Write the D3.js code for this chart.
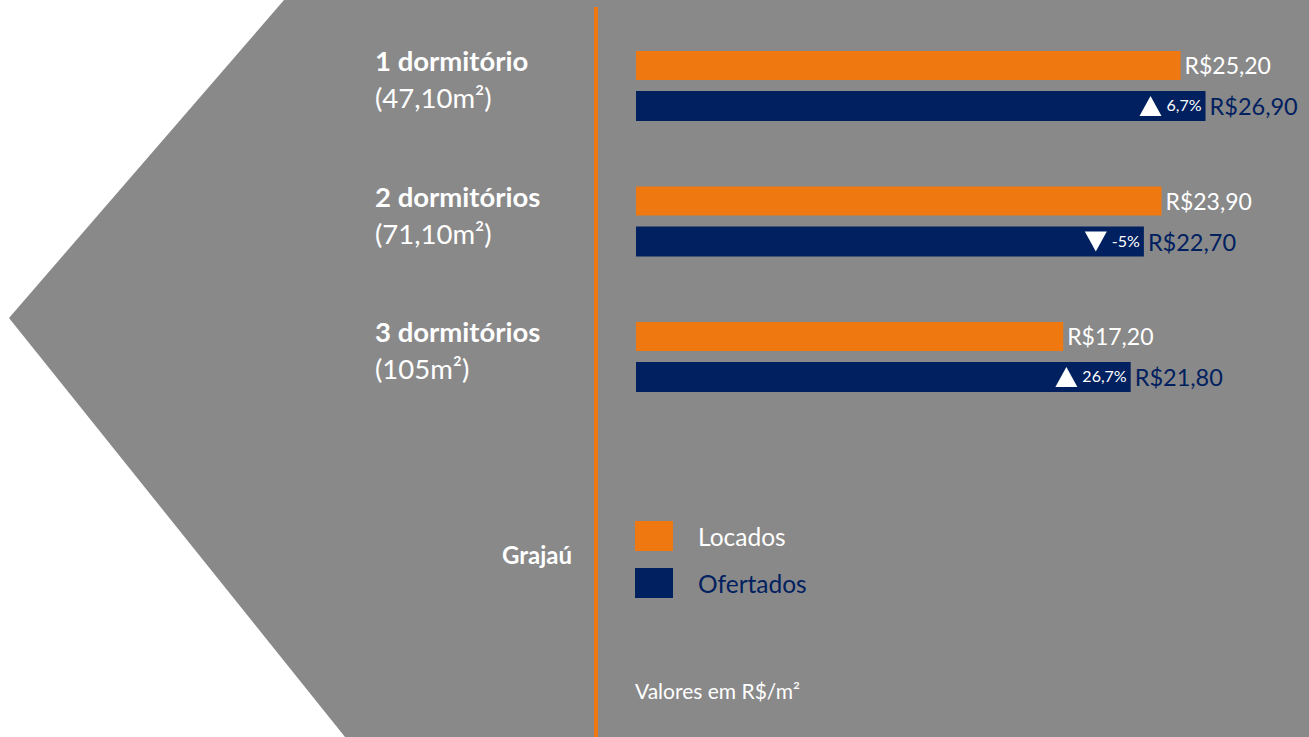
<!DOCTYPE html>
<html><head><meta charset="utf-8">
<script src="https://cdn.jsdelivr.net/npm/d3@7/dist/d3.min.js"></script>
<style>html,body{margin:0;padding:0;background:#fff;overflow:hidden}svg{display:block}text{font-family:Lato,"Open Sans",sans-serif}</style>
</head><body><svg id="c" width="1309" height="737"></svg>
<script>
const categories = ["1 dormitório", "2 dormitórios", "3 dormitórios"];
const areas = ["(47,10m²)", "(71,10m²)", "(105m²)"];
const locados = [25.20, 23.90, 17.20];
const ofertados = [26.90, 22.70, 21.80];
const variacao = ["6,7%", "-5%", "26,7%"];
const variacaoSinal = [1, -1, 1];
const seriesNames = ["Locados", "Ofertados"];
const regionName = "Grajaú";
const note = "Valores em R$/m²";

const W = 1309, H = 737;
const ORANGE = "#F07810", NAVY = "#002060", GREY = "#898989";
const svg = d3.select("#c");
const fmt = v => "R$" + v.toFixed(2).replace(".", ",");

svg.append("path").attr("d", d3.line()([[284,0],[W,0],[W,H],[345,H],[9,318]]) + "Z").attr("fill", GREY);
svg.append("rect").attr("x", 594).attr("y", 7).attr("width", 4).attr("height", H - 7).attr("fill", ORANGE);

const x = d3.scaleLinear().domain([-11.9, 27]).range([636, 1207]);
const y = d3.scalePoint().domain(categories).range([51, 322]);
const x0 = x.domain()[0];

const g = svg.append("g");
categories.forEach((c, i) => {
  const top = y(c);
  g.append("text").attr("x", 375).attr("y", top + 20).attr("fill", "#fff").attr("font-size", 27.5).attr("font-weight", "bold").text(c);
  g.append("text").attr("x", 375).attr("y", top + 57).attr("fill", "#fff").attr("font-size", 27.5).text(areas[i]);
  g.append("rect").attr("x", x(x0)).attr("y", top).attr("width", x(locados[i]) - x(x0)).attr("height", 29).attr("fill", ORANGE);
  g.append("text").attr("x", x(locados[i]) + 4).attr("y", top + 23).attr("fill", "#fff").attr("font-size", 23).text(fmt(locados[i]));
  const nt = top + 40;
  g.append("rect").attr("x", x(x0)).attr("y", nt).attr("width", x(ofertados[i]) - x(x0)).attr("height", 30).attr("fill", NAVY);
  g.append("text").attr("x", x(ofertados[i]) + 4).attr("y", nt + 24).attr("fill", NAVY).attr("font-size", 23.5).text(fmt(ofertados[i]));
  const pt = g.append("text").attr("x", x(ofertados[i]) - 4).attr("y", nt + 20).attr("fill", "#fff").attr("font-size", 16).attr("text-anchor", "end").text(variacao[i]);
  const tw = pt.node().getComputedTextLength();
  const tx = x(ofertados[i]) - 4 - tw - 16;
  const cy = nt + 15;
  const pts = variacaoSinal[i] > 0
    ? [[tx - 11, cy + 10], [tx + 11, cy + 10], [tx, cy - 10]]
    : [[tx - 11, cy - 10], [tx + 11, cy - 10], [tx, cy + 10]];
  g.append("path").attr("d", d3.line()(pts) + "Z").attr("fill", "#fff");
});

const colors = [ORANGE, NAVY];
const textColors = ["#fff", NAVY];
seriesNames.forEach((s, i) => {
  const ly = 521 + i * 47;
  svg.append("rect").attr("x", 635).attr("y", ly).attr("width", 38).attr("height", 30).attr("fill", colors[i]);
  svg.append("text").attr("x", 698).attr("y", ly + 25).attr("fill", textColors[i]).attr("font-size", 24.5).text(s);
});
svg.append("text").attr("x", 572).attr("y", 564).attr("text-anchor", "end").attr("fill", "#fff").attr("font-size", 24).attr("font-weight", "bold").text(regionName);
svg.append("text").attr("x", 635).attr("y", 699).attr("fill", "#fff").attr("font-size", 21).text(note);
</script></body></html>
